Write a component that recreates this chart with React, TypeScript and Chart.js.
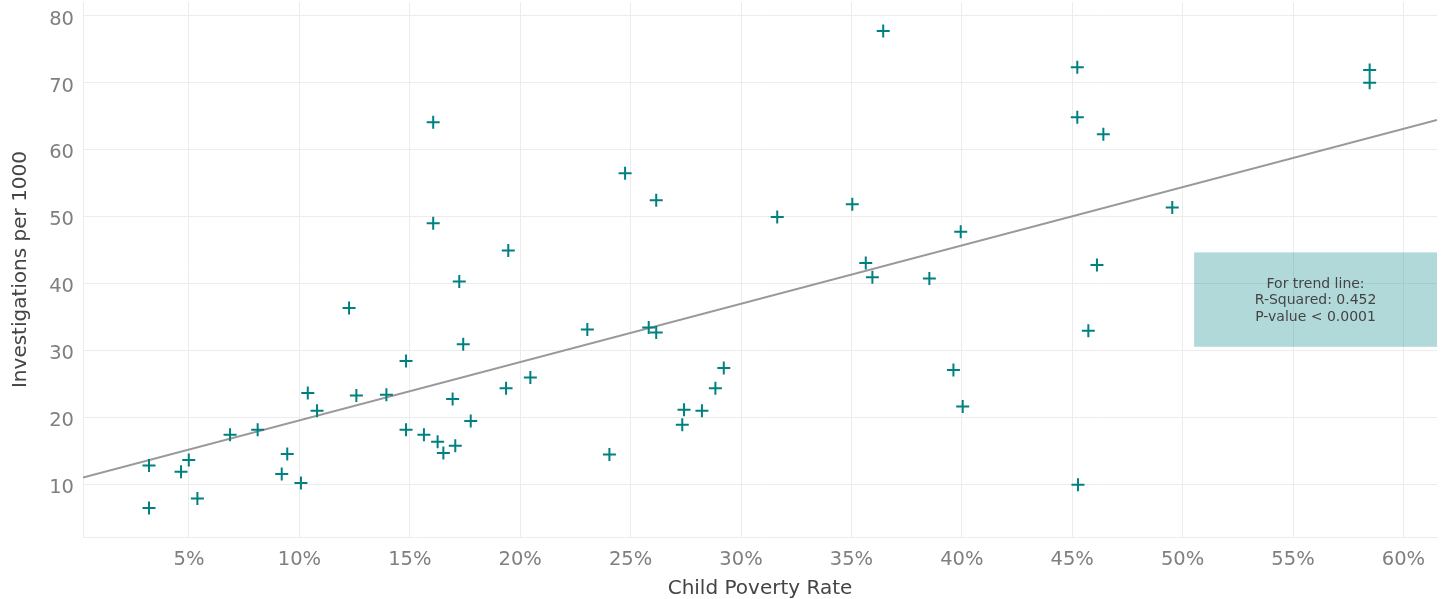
import React, { useEffect, useRef } from "react";
import { Chart, registerables } from "chart.js";

Chart.register(...registerables);

// Child poverty rate (%) per county
const povertyRate = [
  3.19, 3.19, 4.64, 4.99, 5.38, 6.86, 8.11, 9.2, 9.45, 10.07,
  10.38, 10.8, 12.25, 12.58, 13.94, 14.83, 14.83, 15.64, 16.26, 16.52,
  17.06, 16.94, 17.76, 17.42, 19.36, 20.46, 23.04, 25.82, 26.16, 24.04,
  27.34, 27.42, 28.23, 28.84, 29.22, 16.06, 24.75, 26.16, 16.06, 19.46,
  17.24, 36.44, 31.64, 35.04, 39.95, 35.65, 35.95, 38.53, 45.23, 45.23,
  46.41, 58.47, 58.47, 49.53, 46.12, 45.73, 45.26, 39.62, 40.04,
];

// Investigations per 1000 children, same order
const investigations = [
  12.88, 6.52, 11.96, 13.69, 7.96, 17.46, 18.2, 11.6, 14.6, 10.25,
  23.69, 21.04, 36.4, 23.33, 23.43, 28.5, 18.2, 17.46, 16.42, 14.73,
  15.82, 22.79, 19.51, 31.0, 24.43, 26.01, 33.18, 33.48, 32.73, 14.52,
  18.96, 21.19, 21.04, 24.43, 27.42, 64.13, 56.52, 52.49, 49.06, 44.97,
  40.34, 77.76, 50.0, 51.9, 47.8, 43.13, 41.0, 40.79, 72.34, 64.87,
  62.34, 71.94, 70.05, 51.4, 42.8, 33.0, 10.0, 27.12, 21.69,
];

const xTickValues = [5, 10, 15, 20, 25, 30, 35, 40, 45, 50, 55, 60];
const yTickValues = [10, 20, 30, 40, 50, 60, 70, 80];

const xRange = [0.2, 61.52];
const yRange = [2.2, 82.09];

const noteLines = ["For trend line:", "R-Squared: 0.452", "P-value < 0.0001"];
const noteStartX = 50.52;
const noteTopY = 44.7;
const noteBottomY = 30.6;

const FONT = '"DejaVu Sans", Verdana, sans-serif';

// ordinary least squares fit of investigations on poverty rate
function linearFit(xs: number[], ys: number[]) {
  const n = xs.length;
  const mx = xs.reduce((a, b) => a + b, 0) / n;
  const my = ys.reduce((a, b) => a + b, 0) / n;
  let sxy = 0;
  let sxx = 0;
  for (let i = 0; i < n; i++) {
    sxy += (xs[i] - mx) * (ys[i] - my);
    sxx += (xs[i] - mx) * (xs[i] - mx);
  }
  const slope = sxy / sxx;
  return { slope, intercept: my - slope * mx };
}

const trendNotePlugin = {
  id: "trendNote",
  beforeDatasetsDraw(chart: any) {
    const { ctx, chartArea, scales } = chart;
    const left = scales.x.getPixelForValue(noteStartX);
    const right = chartArea.right;
    const top = scales.y.getPixelForValue(noteTopY);
    const bottom = scales.y.getPixelForValue(noteBottomY);
    ctx.save();
    ctx.fillStyle = "rgba(0,128,128,0.3)";
    ctx.fillRect(left, top, right - left, bottom - top);
    ctx.fillStyle = "#444444";
    ctx.font = `14px ${FONT}`;
    ctx.textAlign = "center";
    ctx.textBaseline = "alphabetic";
    const cx = (left + right) / 2;
    const cy = (top + bottom) / 2;
    noteLines.forEach((t, i) => {
      ctx.fillText(t, cx, cy + 4.7 + (i - 1) * 16.5);
    });
    ctx.restore();
  },
};

export default function App() {
  const canvasRef = useRef<HTMLCanvasElement | null>(null);

  useEffect(() => {
    if (!canvasRef.current) return;
    const fit = linearFit(povertyRate, investigations);
    const points = povertyRate.map((x, i) => ({ x, y: investigations[i] }));
    const trend = xRange.map((x) => ({ x, y: fit.intercept + fit.slope * x }));

    const gridColor = "#ececec";
    const tickColor = "#7f7f7f";
    const titleColor = "#444444";

    const chart = new Chart(canvasRef.current, {
      type: "scatter",
      data: {
        datasets: [
          {
            label: "Counties",
            data: points,
            pointStyle: "cross",
            pointRadius: 6.5,
            pointHoverRadius: 6.5,
            borderColor: "#008080",
            backgroundColor: "#008080",
            borderWidth: 2,
            order: 0,
          },
          {
            label: "Trend",
            data: trend,
            showLine: true,
            borderColor: "#999999",
            borderWidth: 2,
            pointRadius: 0,
            order: 1,
          },
        ],
      },
      options: {
        animation: false,
        responsive: true,
        maintainAspectRatio: false,
        layout: { autoPadding: false, padding: { left: 0, right: 8, top: 2, bottom: 0 } },
        plugins: {
          legend: { display: false },
          tooltip: { enabled: false },
        },
        scales: {
          x: {
            type: "linear",
            min: xRange[0],
            max: xRange[1],
            afterBuildTicks: (scale: any) => {
              scale.ticks = xTickValues.map((v) => ({ value: v }));
            },
            afterFit: (scale: any) => {
              scale.height = 62;
              scale.paddingLeft = 0;
              scale.paddingRight = 0;
            },
            grid: { color: gridColor, lineWidth: 1, drawTicks: false },
            border: { display: true, color: gridColor, width: 1 },
            ticks: {
              color: tickColor,
              padding: 11,
              font: { family: FONT, size: 19.5 },
              maxRotation: 0,
              autoSkip: false,
              callback: (v: any) => `${v}%`,
            },
            title: {
              display: true,
              text: "Child Poverty Rate",
              color: titleColor,
              font: { family: FONT, size: 20, lineHeight: 1 },
              padding: { top: 0, bottom: 0 },
            },
          },
          y: {
            type: "linear",
            min: yRange[0],
            max: yRange[1],
            afterBuildTicks: (scale: any) => {
              scale.ticks = yTickValues.map((v) => ({ value: v }));
            },
            afterFit: (scale: any) => {
              scale.width = 83;
              scale.paddingTop = 0;
              scale.paddingBottom = 0;
            },
            grid: { color: gridColor, lineWidth: 1, drawTicks: false },
            border: { display: true, color: gridColor, width: 1 },
            ticks: {
              color: tickColor,
              padding: 9,
              labelOffset: 3.5,
              font: { family: FONT, size: 19.5 },
              autoSkip: false,
            },
            title: {
              display: true,
              text: "Investigations per 1000",
              color: titleColor,
              font: { family: FONT, size: 20, lineHeight: 1 },
              padding: { top: 11, bottom: 0 },
            },
          },
        },
      },
      plugins: [trendNotePlugin],
    });

    return () => chart.destroy();
  }, []);

  return (
    <div style={{ position: "fixed", left: 0, top: 0, width: 1445, height: 599, background: "#ffffff" }}>
      <canvas ref={canvasRef} />
    </div>
  );
}
